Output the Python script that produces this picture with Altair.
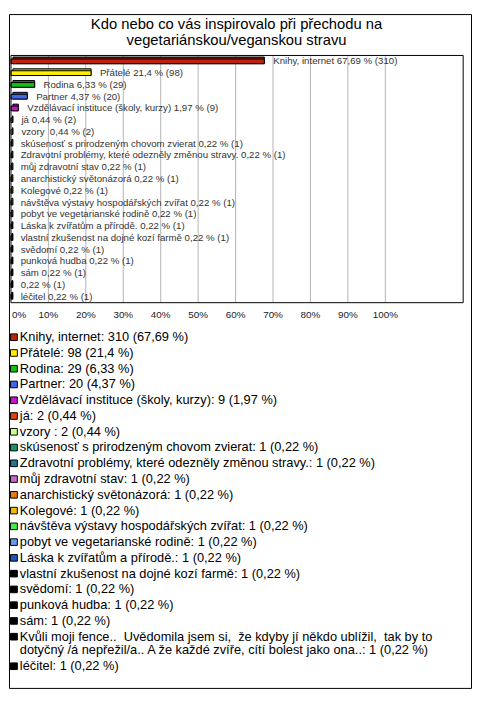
import textwrap
import altair as alt
import pandas as pd

# ---------------- data ----------------
categories = [
    "Knihy, internet",
    "Přátelé",
    "Rodina",
    "Partner",
    "Vzdělávací instituce (školy, kurzy)",
    "já",
    "vzory ",
    "skúsenosť s prirodzeným chovom zvierat",
    "Zdravotní problémy, které odezněly změnou stravy.",
    "můj zdravotní stav",
    "anarchistický světonázorá",
    "Kolegové",
    "návštěva výstavy hospodářských zvířat",
    "pobyt ve vegetarianské rodině",
    "Láska k zvířatům a přírodě.",
    "vlastní zkušenost na dojné kozí farmě",
    "svědomí",
    "punková hudba",
    "sám",
    "Kvůli moji fence..  Uvědomila jsem si,  že kdyby jí někdo ublížil,  tak by to dotyčný /á nepřežil/a.. A že každé zvíře, cítí bolest jako ona..",
    "léčitel",
]
counts = [310, 98, 29, 20, 9, 2, 2, 1, 1, 1, 1, 1, 1, 1, 1, 1, 1, 1, 1, 1, 1]
percents = [67.69, 21.4, 6.33, 4.37, 1.97, 0.44, 0.44, 0.22, 0.22, 0.22, 0.22,
            0.22, 0.22, 0.22, 0.22, 0.22, 0.22, 0.22, 0.22, 0.22, 0.22]
colors = ["#c0200c", "#ffee00", "#12c012", "#4466ee", "#cc12cc", "#e24412",
          "#ccff88", "#129966", "#1f7a8c", "#cc66cc", "#ee7711", "#eebb00",
          "#44ee44", "#6699ee", "#2255bb", "#000000", "#000000", "#000000",
          "#000000", "#000000", "#000000"]
title_lines = ["Kdo nebo co vás inspirovalo při přechodu na",
               "vegetariánskou/veganskou stravu"]
tick_values = [0, 10, 20, 30, 40, 50, 60, 70, 80, 90, 100]
tick_labels = ["0%", "10%", "20%", "30%", "40%", "50%", "60%", "70%", "80%", "90%", "100%"]
x_max = 120.8  # right edge of the plot frame (in %)


# ---------------- helpers ----------------
def cz(p):
    s = f"{p:.2f}".rstrip("0").rstrip(".")
    return s.replace(".", ",")


def keep_spaces(s):
    return s.replace("  ", " \u00a0")


def darker(hexcol, f=0.75):
    r, g, b = (int(hexcol[i:i + 2], 16) for i in (1, 3, 5))
    return "#%02x%02x%02x" % (int(r * f), int(g * f), int(b * f))


W, H = 469, 684
ORIGIN = 9  # page pixel of the view origin


def dom(page_px_of_zero, px_per_unit, total):
    a = -(page_px_of_zero - ORIGIN) / px_per_unit
    return [a, a + total / px_per_unit]


xs = alt.Scale(domain=dom(11, 3.8, W), nice=False, zero=False)
ys_rows = alt.Scale(domain=dom(56.975, 11.95, H), nice=False, zero=False, reverse=True)
ys_leg = alt.Scale(domain=dom(337, 16, H), nice=False, zero=False, reverse=True)
ys_title = alt.Scale(domain=dom(19.5, 15.5, H), nice=False, zero=False, reverse=True)

# ---------------- tables ----------------
n = len(categories)
bars = pd.DataFrame({
    "cat": categories,
    "row": list(range(n)),
    "pct": percents,
    "count": counts,
    "color": colors,
    "dark": [darker(c) for c in colors],
})
bars["x0"] = 0.0
bars["ya"] = bars["row"] - 0.2
bars["yb"] = bars["row"] + 0.2
bars["label"] = [
    (f"{c if len(c) < 80 else ''} {cz(p)} % ({k})").strip()
    for c, p, k in zip(categories, percents, counts)
]
bars["label"] = bars["label"].map(keep_spaces)

grid = pd.DataFrame({"x": tick_values[1:]})
grid["y0"] = -0.5
grid["y1"] = n - 0.5

ticks = pd.DataFrame({"x": tick_values, "label": tick_labels})
ticks["y"] = (315 - 56.975) / 11.95

frame = pd.DataFrame({"x0": [0.0], "x1": [x_max], "y0": [-0.5], "y1": [n - 0.5]})

leg_rows = []
leg_marks = []
slot = 0.0
for c, p, k, col in zip(categories, percents, counts, colors):
    text = f"{c}: {k} ({cz(p)} %)"
    lines = textwrap.wrap(text, width=80) if len(text) > 80 else [text]
    leg_marks.append({"slot": slot, "color": col})
    for j, ln in enumerate(lines):
        leg_rows.append({"slot": slot + 0.875 * j, "text": keep_spaces(ln)})
    slot += 1 + 0.875 * (len(lines) - 1)
legend_text = pd.DataFrame(leg_rows)
legend_marks = pd.DataFrame(leg_marks)
legend_marks["s0"] = legend_marks["slot"] - 0.21
legend_marks["s1"] = legend_marks["slot"] + 0.21

titles = pd.DataFrame({"line": list(range(len(title_lines))), "text": title_lines})

FONT = "Liberation Sans"

# ---------------- layers ----------------
grid_layer = alt.Chart(grid).mark_rule(color="#b4b4b4", strokeWidth=1).encode(
    x=alt.X("x:Q", scale=xs, axis=None),
    y=alt.Y("y0:Q", scale=ys_rows, axis=None),
    y2="y1:Q",
)

frame_layer = alt.Chart(frame).mark_rect(fill="transparent", stroke="black", strokeWidth=1).encode(
    x=alt.X("x0:Q", scale=xs, axis=None),
    x2="x1:Q",
    y=alt.Y("y0:Q", scale=ys_rows, axis=None),
    y2="y1:Q",
)

back_layer = alt.Chart(bars).mark_rect(stroke="black", strokeWidth=1, xOffset=2, yOffset=-2).encode(
    x=alt.X("x0:Q", scale=xs, axis=None),
    x2="pct:Q",
    y=alt.Y("ya:Q", scale=ys_rows, axis=None),
    y2="yb:Q",
    fill=alt.Fill("dark:N", scale=None),
)

front_layer = alt.Chart(bars).mark_rect(stroke="black", strokeWidth=1).encode(
    x=alt.X("x0:Q", scale=xs, axis=None),
    x2="pct:Q",
    y=alt.Y("ya:Q", scale=ys_rows, axis=None),
    y2="yb:Q",
    fill=alt.Fill("color:N", scale=None),
)

label_layer = alt.Chart(bars).mark_text(
    align="left", baseline="middle", dx=9, font=FONT, fontSize=9.8, color="#333333"
).encode(
    x=alt.X("pct:Q", scale=xs, axis=None),
    y=alt.Y("row:Q", scale=ys_rows, axis=None),
    text="label:N",
)

tick0_layer = alt.Chart(ticks).transform_filter("datum.x == 0").mark_text(
    align="left", baseline="middle", dx=1, font=FONT, fontSize=10, color="#222222"
).encode(
    x=alt.X("x:Q", scale=xs, axis=None),
    y=alt.Y("y:Q", scale=ys_rows, axis=None),
    text="label:N",
)

tick_layer = alt.Chart(ticks).transform_filter("datum.x > 0").mark_text(
    align="center", baseline="middle", font=FONT, fontSize=10, color="#222222"
).encode(
    x=alt.X("x:Q", scale=xs, axis=None),
    y=alt.Y("y:Q", scale=ys_rows, axis=None),
    text="label:N",
)

title_layer = alt.Chart(titles).mark_text(
    align="center", baseline="middle", font=FONT, fontSize=15, color="black"
).encode(
    x=alt.value(231),
    y=alt.Y("line:Q", scale=ys_title, axis=None),
    text="text:N",
)

leg_square_layer = alt.Chart(legend_marks).mark_rect(
    stroke="black", strokeWidth=1
).encode(
    x=alt.value(1.5),
    x2=alt.value(8.5),
    y=alt.Y("s0:Q", scale=ys_leg, axis=None),
    y2="s1:Q",
    fill=alt.Fill("color:N", scale=None),
)

leg_text_layer = alt.Chart(legend_text).mark_text(
    align="left", baseline="middle", font=FONT, fontSize=13, color="black"
).encode(
    x=alt.value(11),
    y=alt.Y("slot:Q", scale=ys_leg, axis=None),
    text="text:N",
)

chart = alt.layer(
    grid_layer, back_layer, front_layer, frame_layer, label_layer,
    tick0_layer, tick_layer, title_layer, leg_square_layer, leg_text_layer,
).resolve_scale(
    x="independent", y="independent"
).properties(
    width=W, height=H, padding=1, background="white",
    autosize=alt.AutoSizeParams(type="none"),
).configure_view(stroke="black", strokeWidth=1)

chart.save("out.html", embed_options={"renderer": "svg", "actions": False})
